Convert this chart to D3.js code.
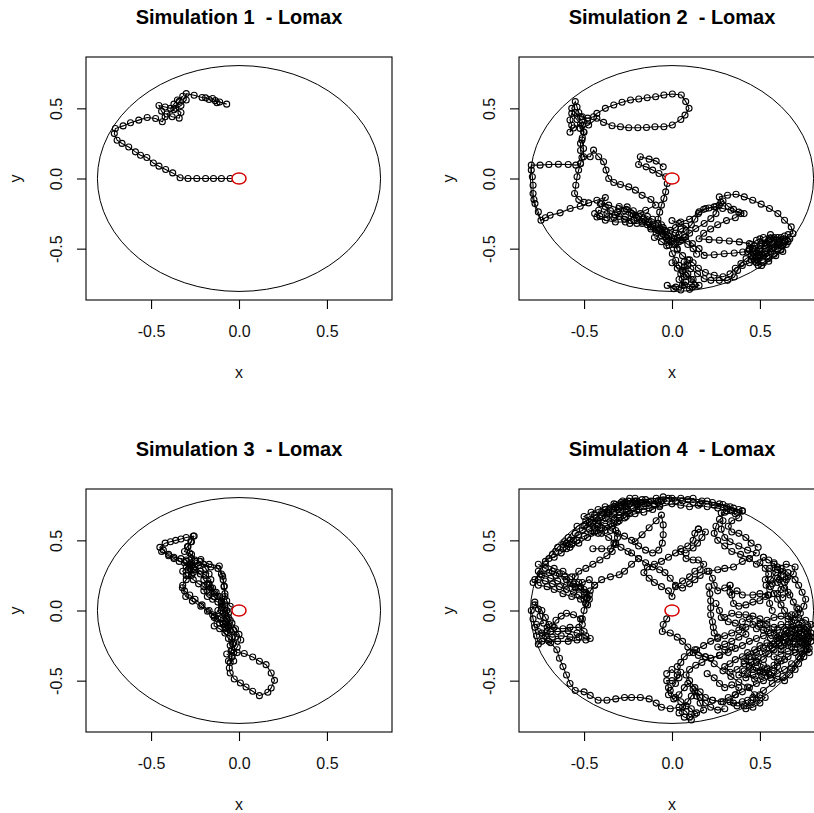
<!DOCTYPE html>
<html><head><meta charset="utf-8">
<script src="https://cdn.jsdelivr.net/npm/d3@7"></script>
<style>body{margin:0;background:#fff;overflow:hidden}svg{display:block}text{white-space:pre}</style>
</head><body>
<script>
// ---------- DATA ----------
const titles = ["Simulation 1  - Lomax","Simulation 2  - Lomax","Simulation 3  - Lomax","Simulation 4  - Lomax"];
const xTicks = [-0.5, 0, 0.5];
const yTicks = [-0.5, 0, 0.5];
const boundaryRadius = 0.805;
const originRadius = 0.04;

const sim1 = [[
 [0,0],[-0.05,0],[-0.1,0],[-0.145,0],[-0.19,0],[-0.24,0],[-0.29,0],[-0.335,0.005],[-0.377,0.04],[-0.417,0.064],
 [-0.455,0.088],[-0.487,0.11],[-0.524,0.15],[-0.56,0.166],[-0.589,0.19],[-0.627,0.225],[-0.665,0.25],[-0.693,0.273],
 [-0.709,0.32],[-0.703,0.356],[-0.659,0.375],[-0.617,0.397],[-0.57,0.416],[-0.522,0.435],[-0.474,0.428],[-0.436,0.404],
 [-0.42,0.44],[-0.44,0.48],[-0.455,0.52],[-0.42,0.51],[-0.39,0.5],[-0.37,0.53],[-0.35,0.56],[-0.32,0.586],[-0.34,0.55],
 [-0.37,0.49],[-0.41,0.46],[-0.38,0.44],[-0.34,0.43],[-0.33,0.47],[-0.36,0.5],[-0.33,0.52],[-0.3,0.56],[-0.3,0.605],
 [-0.255,0.593],[-0.21,0.577],[-0.19,0.575],[-0.17,0.563],[-0.15,0.57],[-0.125,0.54],[-0.135,0.555],[-0.11,0.545],[-0.07,0.53]
]];

const sim2 = [
[[-0.05,0.083],[-0.09,0.124],[-0.13,0.138],[-0.18,0.155],[-0.19,0.1],[-0.147,0.083],[-0.11,0.06],[-0.074,0.036],[-0.036,0.012],[0,0],
 [-0.027,-0.036],[-0.036,-0.095],[-0.046,-0.143],[-0.06,-0.19],[-0.07,-0.24],[-0.08,-0.29],[-0.06,-0.33],[-0.04,-0.37],[-0.036,-0.417],
 [-0.017,-0.476],[0.002,-0.536],[0.021,-0.583],[0.04,-0.619],[0.059,-0.655],[0.069,-0.702],[0.059,-0.762],[0.021,-0.774],[-0.027,-0.762],
 [0.01,-0.785],[0.05,-0.795],[0.078,-0.738],[0.116,-0.774],[0.154,-0.762],[0.12,-0.72],[0.09,-0.68],[0.069,-0.63],[0.069,-0.595],
 [0.107,-0.643],[0.145,-0.679],[0.183,-0.714],[0.221,-0.726],[0.269,-0.726],[0.316,-0.726],[0.354,-0.702],[0.373,-0.655],[0.392,-0.607],
 [0.421,-0.571],[0.45,-0.55],[0.48,-0.53],[0.5,-0.5],[0.53,-0.48],[0.55,-0.45],[0.58,-0.44],[0.6,-0.47],[0.57,-0.5],[0.54,-0.53],
 [0.5,-0.56],[0.47,-0.59],[0.49,-0.62],[0.52,-0.6],[0.55,-0.57],[0.58,-0.54],[0.62,-0.51],[0.65,-0.47],[0.67,-0.43],[0.64,-0.41],
 [0.6,-0.42],[0.56,-0.4],[0.52,-0.42],[0.48,-0.44],[0.45,-0.47],[0.44,-0.51],[0.47,-0.54],[0.5,-0.52],[0.53,-0.5],[0.57,-0.47],
 [0.61,-0.45],[0.64,-0.44],[0.66,-0.4],[0.688,-0.393],[0.678,-0.345],[0.64,-0.298],[0.602,-0.25],[0.554,-0.214],[0.507,-0.183],
 [0.459,-0.155],[0.411,-0.131],[0.364,-0.112],[0.316,-0.119],[0.269,-0.131],[0.278,-0.17],[0.269,-0.19],[0.25,-0.25],[0.221,-0.286],
 [0.183,-0.321],[0.135,-0.357],[0.1,-0.39],[0.07,-0.42],[0.04,-0.45],[0.01,-0.43],[-0.02,-0.41],[-0.06,-0.38],[-0.074,-0.369],
 [-0.122,-0.345],[-0.17,-0.321],[-0.217,-0.298],[-0.265,-0.274],[-0.322,-0.262],[-0.37,-0.25],[-0.417,-0.226],[-0.427,-0.274],
 [-0.379,-0.298],[-0.322,-0.31],[-0.265,-0.31],[-0.208,-0.262],[-0.15,-0.226],[-0.093,-0.19],[-0.12,-0.15],[-0.17,-0.12],
 [-0.208,-0.083],[-0.246,-0.06],[-0.293,-0.043],[-0.331,-0.029],[-0.36,0.0],[-0.375,0.06],[-0.389,0.119],[-0.417,0.155],
 [-0.446,0.202],[-0.465,0.155],[-0.503,0.155],[-0.503,0.214],[-0.512,0.274],[-0.503,0.333],[-0.522,0.357],[-0.474,0.381],
 [-0.427,0.429],[-0.389,0.4],[-0.341,0.376],[-0.293,0.369],[-0.246,0.362],[-0.194,0.362],[-0.145,0.364],[-0.097,0.369],
 [-0.046,0.369],[0.002,0.381],[0.05,0.421],[0.074,0.452],[0.097,0.5],[0.078,0.548],[0.053,0.595],[0.002,0.602],[-0.046,0.595],
 [-0.093,0.583],[-0.141,0.576],[-0.189,0.567],[-0.236,0.56],[-0.284,0.543],[-0.331,0.524],[-0.379,0.5],[-0.427,0.464],
 [-0.446,0.44],[-0.48,0.43],[-0.52,0.44],[-0.55,0.47],[-0.57,0.5],[-0.55,0.548],[-0.54,0.51],[-0.53,0.47],[-0.51,0.44],
 [-0.48,0.41],[-0.52,0.39],[-0.56,0.36],[-0.58,0.33],[-0.57,0.38],[-0.58,0.417],[-0.57,0.464],[-0.54,0.42],[-0.51,0.38],
 [-0.5,0.33],[-0.51,0.29],[-0.52,0.25],[-0.52,0.2],[-0.512,0.15],[-0.52,0.107],[-0.547,0.095],[-0.59,0.1],[-0.646,0.102],
 [-0.7,0.1],[-0.75,0.095],[-0.8,0.095],[-0.8,0.06],[-0.794,0.012],[-0.79,-0.048],[-0.79,-0.107],[-0.785,-0.15],[-0.779,-0.179],
 [-0.76,-0.238],[-0.745,-0.298],[-0.72,-0.28],[-0.693,-0.262],[-0.636,-0.245],[-0.579,-0.214],[-0.522,-0.198],[-0.474,-0.174],
 [-0.427,-0.155],[-0.379,-0.136],[-0.4,-0.18],[-0.36,-0.19],[-0.303,-0.214],[-0.255,-0.202],[-0.22,-0.23],[-0.19,-0.27],
 [-0.15,-0.3],[-0.11,-0.33],[-0.07,-0.36],[-0.03,-0.38],[0.02,-0.35],[0.05,-0.31],[0.1,-0.29],[0.154,-0.238],[0.192,-0.214],
 [0.24,-0.202],[0.288,-0.214],[0.335,-0.226],[0.392,-0.25],[0.36,-0.28],[0.31,-0.3],[0.26,-0.33],[0.22,-0.36],[0.18,-0.39],
 [0.154,-0.429],[0.211,-0.436],[0.269,-0.44],[0.326,-0.445],[0.383,-0.452],[0.44,-0.464],[0.46,-0.5],[0.43,-0.52],[0.402,-0.524],
 [0.354,-0.531],[0.297,-0.536],[0.24,-0.543],[0.183,-0.548],[0.154,-0.5],[0.116,-0.464],[0.078,-0.417],[0.05,-0.44],[0.02,-0.47],
 [0.03,-0.51],[0.06,-0.55],[0.09,-0.58],[0.12,-0.6],[0.15,-0.64],[0.19,-0.67],[0.24,-0.69],[0.29,-0.7],[0.33,-0.68],[0.36,-0.64],
 [0.4,-0.62],[0.44,-0.6],[0.48,-0.58],[0.52,-0.55],[0.56,-0.52],[0.6,-0.5],[0.63,-0.48],[0.6,-0.44],[0.56,-0.43],[0.53,-0.46],
 [0.5,-0.48],[0.47,-0.51],[0.5,-0.54],[0.54,-0.56]],
[[-0.52,0.107],[-0.531,0.06],[-0.54,0.012],[-0.547,-0.048],[-0.554,-0.107],[-0.53,-0.15],[-0.5,-0.17]],
[[-0.408,-0.179],[-0.38,-0.2],[-0.35,-0.23],[-0.31,-0.24],[-0.27,-0.23],[-0.23,-0.25],[-0.2,-0.28],[-0.16,-0.29],[-0.13,-0.31],
 [-0.1,-0.34],[-0.08,-0.37],[-0.05,-0.4],[-0.02,-0.44],[0.01,-0.47],[0.03,-0.5]],
[[-0.44,-0.25],[-0.41,-0.27],[-0.37,-0.28],[-0.33,-0.28],[-0.3,-0.27],[-0.27,-0.29],[-0.24,-0.32],[-0.2,-0.32],[-0.17,-0.31],
 [-0.14,-0.33],[-0.12,-0.36],[-0.09,-0.39],[-0.06,-0.41],[-0.03,-0.43]],
[[0.0,-0.42],[0.04,-0.4],[0.08,-0.37],[0.11,-0.33],[0.13,-0.29],[0.15,-0.25],[0.18,-0.22],[0.21,-0.21],[0.25,-0.2],[0.29,-0.16],
 [0.32,-0.2],[0.35,-0.22],[0.38,-0.24],[0.41,-0.25]],
[[0.45,-0.58],[0.49,-0.57],[0.53,-0.54],[0.57,-0.5],[0.61,-0.47],[0.64,-0.45],[0.62,-0.42],[0.58,-0.42],[0.55,-0.44],[0.51,-0.46],
 [0.47,-0.48],[0.44,-0.5],[0.46,-0.53],[0.5,-0.55]],
[[0.0,-0.6],[0.03,-0.64],[0.05,-0.68],[0.04,-0.72],[0.07,-0.76],[0.1,-0.79],[0.13,-0.76],[0.11,-0.72],[0.08,-0.69],[0.06,-0.66],
 [0.09,-0.62],[0.1,-0.58]],
[[-0.3,-0.2],[-0.26,-0.22],[-0.22,-0.26],[-0.18,-0.25],[-0.14,-0.27],[-0.11,-0.29],[-0.08,-0.32],[-0.05,-0.35],[-0.01,-0.37],
 [0.02,-0.39],[0.05,-0.36],[0.08,-0.34],[0.04,-0.32],[0.0,-0.3]],
[[-0.1,-0.42],[-0.06,-0.45],[-0.03,-0.48],[0.0,-0.45],[0.03,-0.42],[0.06,-0.44],[0.09,-0.47],[0.12,-0.5],[0.14,-0.54]],
[[0.5,-0.43],[0.54,-0.47],[0.58,-0.49],[0.62,-0.48],[0.66,-0.45],[0.63,-0.52],[0.59,-0.55],[0.55,-0.59],[0.51,-0.62],[0.48,-0.6],
 [0.46,-0.56],[0.5,-0.51]]
];

const sim3 = [
[[0,0],[-0.05,0.03],[-0.07,0.07],[-0.08,0.12],[-0.085,0.17],[-0.09,0.22],[-0.1,0.26],[-0.12,0.3],[-0.16,0.31],[-0.2,0.33],
 [-0.23,0.32],[-0.26,0.3],[-0.28,0.33],[-0.3,0.36],[-0.33,0.37],[-0.37,0.38],[-0.4,0.4],[-0.43,0.43],[-0.45,0.45],[-0.42,0.48],
 [-0.39,0.49],[-0.36,0.5],[-0.33,0.51],[-0.3,0.52],[-0.26,0.53],[-0.27,0.49],[-0.29,0.455],[-0.28,0.41],[-0.27,0.37],[-0.28,0.33],
 [-0.29,0.29],[-0.27,0.25],[-0.3,0.22],[-0.32,0.18],[-0.31,0.14],[-0.28,0.11],[-0.25,0.08],[-0.21,0.04],[-0.17,0.0],[-0.14,-0.04],
 [-0.11,-0.09],[-0.08,-0.12],[-0.05,-0.14],[-0.04,-0.19],[-0.035,-0.24],[-0.045,-0.29],[-0.04,-0.33],[-0.05,-0.37],[-0.055,-0.41],
 [-0.05,-0.445],[-0.027,-0.488],[0.008,-0.517],[0.04,-0.545],[0.078,-0.576],[0.116,-0.607],[0.164,-0.583],[0.183,-0.552],
 [0.202,-0.498],[0.183,-0.445],[0.154,-0.386],[0.116,-0.362],[0.078,-0.331],[0.03,-0.307],[-0.01,-0.3],[-0.04,-0.28],[-0.03,-0.23],
 [-0.02,-0.19],[-0.03,-0.14],[-0.06,-0.11],[-0.07,-0.06],[-0.09,-0.02],[-0.1,0.02],[-0.12,0.06],[-0.15,0.08],[-0.18,0.1],
 [-0.2,0.14],[-0.17,0.18],[-0.16,0.22],[-0.19,0.25],[-0.22,0.28],[-0.25,0.31],[-0.27,0.34],[-0.3,0.31],[-0.32,0.28],[-0.3,0.25],
 [-0.26,0.22],[-0.23,0.19],[-0.2,0.17],[-0.17,0.15],[-0.14,0.13],[-0.12,0.1],[-0.1,0.07],[-0.08,0.04],[-0.07,0.0],[-0.06,-0.05],
 [-0.04,-0.09],[-0.02,-0.13],[0.0,-0.17],[0.01,-0.21],[-0.01,-0.26],[-0.03,-0.3]],
[[-0.217,0.364],[-0.17,0.329],[-0.112,0.317],[-0.093,0.245],[-0.084,0.174],[-0.08,0.1],[-0.1,0.05],[-0.12,0.0],[-0.141,-0.05],
 [-0.141,-0.11],[-0.11,-0.13],[-0.08,-0.16],[-0.06,-0.2],[-0.05,-0.25]],
[[-0.322,0.162],[-0.303,0.1],[-0.265,0.067],[-0.217,0.031],[-0.179,-0.005],[-0.15,-0.03],[-0.12,-0.06],[-0.09,-0.09],[-0.07,-0.13]],
[[-0.44,0.42],[-0.4,0.39],[-0.37,0.37],[-0.34,0.35],[-0.31,0.34],[-0.28,0.31],[-0.25,0.29],[-0.22,0.26],[-0.2,0.22],[-0.18,0.19],
 [-0.16,0.16],[-0.13,0.13],[-0.11,0.1],[-0.1,0.06],[-0.08,0.02],[-0.06,-0.02],[-0.05,-0.07],[-0.06,-0.11],[-0.07,-0.15]],
[[-0.255,0.531],[-0.274,0.49],[-0.293,0.455],[-0.31,0.42],[-0.27,0.4],[-0.25,0.36],[-0.22,0.35],[-0.19,0.3],[-0.17,0.26]],
[[-0.3,0.35],[-0.27,0.32],[-0.25,0.35],[-0.28,0.3],[-0.26,0.27],[-0.29,0.25]],
[[-0.1,0.0],[-0.08,-0.03],[-0.1,-0.05],[-0.07,-0.08],[-0.09,-0.1],[-0.06,-0.12]],
[[-0.17,0.19],[-0.15,0.16],[-0.17,0.13],[-0.14,0.1]],
[[-0.07,-0.31],[-0.04,-0.33],[-0.06,-0.36],[-0.03,-0.36]]
];

const sim4 = [
[[0,0],[-0.03,-0.06],[-0.05,-0.1],[-0.055,-0.15],[-0.01,-0.16],[0.03,-0.19],[0.06,-0.22],[0.09,-0.26],[0.12,-0.3],[0.15,-0.32],
 [0.19,-0.33],[0.22,-0.34],[0.27,-0.32],[0.32,-0.3],[0.36,-0.27],[0.4,-0.25],[0.44,-0.22],[0.48,-0.2],[0.52,-0.18],[0.56,-0.16],
 [0.6,-0.14],[0.64,-0.13],[0.68,-0.12],[0.72,-0.1],[0.75,-0.13],[0.73,-0.17],[0.7,-0.2],[0.66,-0.22],[0.62,-0.25],[0.58,-0.28],
 [0.55,-0.31],[0.52,-0.35],[0.48,-0.37],[0.44,-0.4],[0.41,-0.43],[0.38,-0.46],[0.42,-0.48],[0.46,-0.46],[0.5,-0.44],[0.54,-0.42],
 [0.58,-0.39],[0.62,-0.36],[0.66,-0.33],[0.7,-0.3],[0.73,-0.27],[0.76,-0.24],[0.78,-0.2],[0.79,-0.16],[0.77,-0.12],[0.74,-0.09],
 [0.7,-0.07],[0.66,-0.06],[0.62,-0.04],[0.58,-0.05],[0.54,-0.07],[0.5,-0.09],[0.46,-0.1],[0.42,-0.12],[0.38,-0.14],[0.34,-0.16],
 [0.3,-0.18],[0.26,-0.2],[0.22,-0.22],[0.18,-0.25],[0.14,-0.28],[0.1,-0.3],[0.07,-0.33],[0.05,-0.37],[0.03,-0.4],[0.05,-0.44],
 [0.04,-0.48],[0.0,-0.5],[-0.03,-0.5],[-0.02,-0.55],[-0.02,-0.6],[0.01,-0.63],[0.04,-0.6],[0.07,-0.55],[0.09,-0.52],[0.12,-0.56],
 [0.14,-0.61],[0.16,-0.66],[0.18,-0.71],[0.14,-0.73],[0.1,-0.76],[0.08,-0.72],[0.04,-0.69],[-0.01,-0.7],[-0.06,-0.69],[-0.09,-0.66],
 [-0.13,-0.63],[-0.18,-0.62],[-0.23,-0.62],[-0.27,-0.62],[-0.32,-0.63],[-0.37,-0.64],[-0.42,-0.64],[-0.465,-0.605],[-0.5,-0.58],
 [-0.55,-0.57],[-0.58,-0.52],[-0.6,-0.46],[-0.62,-0.4],[-0.64,-0.34],[-0.655,-0.28],[-0.69,-0.23],[-0.74,-0.22],[-0.76,-0.24],
 [-0.77,-0.18],[-0.78,-0.12],[-0.79,-0.06],[-0.8,0.0],[-0.78,0.04],[-0.74,0.0],[-0.72,-0.05],[-0.7,-0.1],[-0.74,-0.16],[-0.69,-0.15],
 [-0.65,-0.15],[-0.59,-0.145],[-0.54,-0.16],[-0.49,-0.18],[-0.465,-0.2],[-0.49,-0.21],[-0.54,-0.21],[-0.59,-0.22],[-0.65,-0.22],
 [-0.7,-0.22],[-0.73,-0.2],[-0.71,-0.15],[-0.68,-0.11],[-0.66,-0.07],[-0.63,-0.04],[-0.6,-0.02],[-0.56,-0.03],[-0.52,-0.06],
 [-0.51,-0.1],[-0.51,-0.06],[-0.5,0.0],[-0.49,0.05],[-0.48,0.09],[-0.5,0.13],[-0.53,0.16],[-0.55,0.16],[-0.6,0.18],[-0.65,0.21],
 [-0.69,0.23],[-0.74,0.255],[-0.76,0.28],[-0.72,0.33],[-0.67,0.3],[-0.62,0.28],[-0.57,0.24],[-0.53,0.2],[-0.5,0.15],[-0.47,0.11],
 [-0.52,0.08],[-0.57,0.1],[-0.62,0.12],[-0.67,0.15],[-0.71,0.17],[-0.76,0.18],[-0.78,0.22],[-0.75,0.26],[-0.7,0.27],[-0.66,0.25],
 [-0.61,0.24],[-0.58,0.2],[-0.55,0.17],[-0.51,0.2],[-0.47,0.22],[-0.44,0.18],[-0.465,0.14],[-0.484,0.09],[-0.49,0.05]],
[[-0.72,0.35],[-0.68,0.4],[-0.65,0.45],[-0.61,0.49],[-0.59,0.52],[-0.54,0.6],[-0.49,0.64],[-0.44,0.68],[-0.38,0.72],[-0.32,0.755],
 [-0.27,0.77],[-0.21,0.78],[-0.15,0.79],[-0.09,0.8],[-0.05,0.81],[0.0,0.8],[0.06,0.78],[0.12,0.77],[0.17,0.78],[0.23,0.77],
 [0.29,0.755],[0.35,0.73],[0.4,0.71],[0.36,0.69],[0.31,0.71],[0.26,0.73],[0.2,0.74],[0.15,0.75],[0.1,0.74],[0.05,0.75],[0.0,0.76],
 [-0.07,0.74],[-0.13,0.73],[-0.19,0.72],[-0.25,0.71],[-0.3,0.68],[-0.36,0.65],[-0.42,0.61],[-0.47,0.58],[-0.53,0.54],[-0.58,0.5],
 [-0.62,0.47],[-0.58,0.45],[-0.53,0.48],[-0.48,0.52],[-0.44,0.56],[-0.4,0.59],[-0.35,0.62],[-0.3,0.64],[-0.26,0.67],[-0.21,0.69],
 [-0.16,0.7],[-0.11,0.72],[-0.07,0.75],[-0.03,0.78],[-0.08,0.77],[-0.14,0.76],[-0.2,0.75],[-0.26,0.74],[-0.31,0.72],[-0.36,0.69],
 [-0.41,0.66],[-0.45,0.63],[-0.44,0.59],[-0.4,0.55],[-0.36,0.52],[-0.32,0.48],[-0.29,0.45],[-0.25,0.42],[-0.23,0.41],[-0.19,0.37],
 [-0.15,0.34],[-0.11,0.31],[-0.07,0.29],[-0.04,0.27],[-0.01,0.23],[0.02,0.18],[0.06,0.16],[0.1,0.19],[0.13,0.22],[0.16,0.25],
 [0.2,0.28],[0.26,0.29],[0.3,0.3],[0.35,0.31],[0.4,0.35],[0.44,0.37],[0.48,0.33]],
[[-0.19,0.37],[-0.23,0.33],[-0.27,0.28],[-0.3,0.255],[-0.35,0.24],[-0.4,0.22],[-0.44,0.18]],
[[-0.21,0.49],[-0.17,0.54],[-0.13,0.59],[-0.09,0.64],[-0.06,0.68],[-0.05,0.61],[-0.05,0.54],[-0.055,0.48],[-0.075,0.43],[-0.11,0.41],
 [-0.15,0.43],[-0.19,0.46],[-0.23,0.5],[-0.27,0.53],[-0.31,0.55],[-0.35,0.57],[-0.38,0.6],[-0.42,0.62],[-0.46,0.65],[-0.5,0.67],
 [-0.46,0.7],[-0.42,0.72],[-0.38,0.74],[-0.33,0.76],[-0.28,0.78],[-0.24,0.8],[-0.2,0.78],[-0.16,0.76],[-0.12,0.78],[-0.08,0.78]],
[[-0.4,0.67],[-0.36,0.7],[-0.32,0.73],[-0.28,0.74],[-0.3,0.7],[-0.34,0.67],[-0.3,0.66],[-0.26,0.7],[-0.22,0.73],[-0.18,0.74],
 [-0.22,0.77],[-0.27,0.76]],
[[-0.45,0.44],[-0.4,0.44],[-0.35,0.44],[-0.33,0.48]],
[[0.37,0.7],[0.33,0.74],[0.3,0.7],[0.28,0.695],[0.29,0.64],[0.28,0.58],[0.3,0.52],[0.33,0.49],[0.38,0.46],[0.43,0.43],[0.48,0.41],
 [0.44,0.37],[0.39,0.4],[0.34,0.42],[0.3,0.46],[0.26,0.5],[0.24,0.55],[0.25,0.6],[0.27,0.65]],
[[0.15,0.58],[0.19,0.56],[0.17,0.52],[0.145,0.48],[0.12,0.445],[0.08,0.41],[0.05,0.42],[0.08,0.37],[0.12,0.36],[0.15,0.36],
 [0.18,0.33],[0.16,0.29],[0.13,0.28],[0.1,0.24],[0.06,0.21],[0.02,0.17],[0.0,0.1],[-0.02,0.14],[-0.06,0.17],[-0.1,0.2],[-0.13,0.23],
 [-0.16,0.27],[-0.14,0.31],[-0.1,0.33],[-0.06,0.35],[-0.02,0.38],[0.02,0.41],[0.05,0.44],[0.09,0.46],[0.12,0.5],[0.13,0.55],[0.15,0.58]],
[[0.21,0.28],[0.23,0.23],[0.24,0.18],[0.26,0.14],[0.3,0.16],[0.33,0.18],[0.34,0.11],[0.35,0.05],[0.38,0.03],[0.42,0.04],[0.46,0.06],
 [0.5,0.07],[0.53,0.1],[0.545,0.11],[0.535,0.18],[0.56,0.22],[0.59,0.27],[0.555,0.3],[0.6,0.31],[0.65,0.33],[0.7,0.31],[0.69,0.26],
 [0.65,0.22],[0.61,0.22],[0.64,0.16],[0.67,0.11],[0.69,0.06],[0.71,0.02],[0.73,-0.02],[0.75,0.03],[0.76,0.08],[0.74,0.13],
 [0.72,0.18],[0.7,0.22],[0.66,0.27],[0.62,0.3],[0.58,0.33],[0.55,0.36],[0.52,0.38]],
[[0.57,0.0],[0.555,0.05],[0.55,0.11],[0.5,0.12],[0.46,0.11],[0.4,0.11],[0.37,0.14],[0.33,0.13],[0.33,0.18]],
[[0.58,0.34],[0.6,0.29],[0.62,0.25],[0.6,0.2],[0.62,0.15],[0.6,0.12],[0.63,0.09],[0.66,0.13],[0.64,0.2],[0.66,0.24],[0.63,0.28],
 [0.6,0.23],[0.57,0.19]],
[[0.21,0.17],[0.215,0.12],[0.22,0.07],[0.22,0.02],[0.22,-0.03],[0.23,-0.08],[0.235,-0.12],[0.24,-0.16],[0.26,-0.19]],
[[0.3,-0.05],[0.34,-0.02],[0.38,-0.03],[0.42,-0.03],[0.46,-0.04],[0.5,-0.06],[0.54,-0.1],[0.58,-0.12],[0.62,-0.1],[0.66,-0.1],
 [0.7,-0.14],[0.74,-0.18],[0.77,-0.22],[0.75,-0.28],[0.72,-0.33],[0.68,-0.38],[0.64,-0.42],[0.6,-0.45],[0.56,-0.48],[0.52,-0.5],
 [0.48,-0.52],[0.44,-0.55],[0.4,-0.58],[0.36,-0.6],[0.32,-0.62],[0.28,-0.65],[0.23,-0.64],[0.19,-0.62],[0.16,-0.58],[0.13,-0.55],
 [0.1,-0.5],[0.08,-0.46],[0.1,-0.42],[0.135,-0.39],[0.17,-0.37],[0.22,-0.34],[0.27,-0.32]],
[[0.13,-0.28],[0.19,-0.33],[0.24,-0.38],[0.29,-0.43],[0.335,-0.47],[0.38,-0.51],[0.43,-0.545],[0.47,-0.6],[0.43,-0.64],[0.4,-0.65],
 [0.35,-0.66],[0.29,-0.65],[0.23,-0.64]],
[[0.46,-0.62],[0.52,-0.57],[0.57,-0.52],[0.63,-0.47],[0.68,-0.41],[0.73,-0.34],[0.77,-0.28],[0.79,-0.22]],
[[0.62,-0.18],[0.66,-0.16],[0.7,-0.18],[0.74,-0.2],[0.78,-0.18],[0.76,-0.14],[0.72,-0.13],[0.68,-0.2],[0.64,-0.23],[0.68,-0.26],
 [0.72,-0.24],[0.76,-0.26],[0.78,-0.3],[0.74,-0.31],[0.7,-0.28],[0.66,-0.29],[0.62,-0.31],[0.58,-0.33],[0.6,-0.37],[0.64,-0.35]],
[[0.45,-0.33],[0.48,-0.36],[0.52,-0.39],[0.5,-0.43],[0.46,-0.42],[0.43,-0.45],[0.47,-0.49],[0.51,-0.47],[0.55,-0.45],[0.54,-0.41],
 [0.58,-0.43],[0.6,-0.4]],
[[-0.66,0.42],[-0.62,0.44],[-0.6,0.48],[-0.56,0.5],[-0.55,0.55],[-0.51,0.57],[-0.49,0.61],[-0.45,0.6],[-0.42,0.64],[-0.38,0.66],
 [-0.37,0.7],[-0.33,0.7],[-0.3,0.73],[-0.26,0.72],[-0.24,0.76],[-0.2,0.76],[-0.17,0.79],[-0.13,0.77],[-0.1,0.76],[-0.06,0.78],
 [-0.02,0.8],[0.02,0.78],[0.05,0.8],[0.09,0.79],[0.12,0.8],[0.16,0.76],[0.2,0.78],[0.24,0.75],[0.27,0.76],[0.31,0.74],[0.34,0.71],[0.38,0.72]],
[[-0.5,0.6],[-0.47,0.63],[-0.43,0.66],[-0.4,0.7],[-0.36,0.72],[-0.33,0.74],[-0.29,0.77],[-0.25,0.78],[-0.21,0.8],[-0.18,0.77],
 [-0.2,0.72],[-0.24,0.69],[-0.27,0.66],[-0.31,0.63],[-0.34,0.6],[-0.38,0.57],[-0.42,0.55],[-0.46,0.55],[-0.5,0.53],[-0.54,0.5],
 [-0.57,0.47],[-0.6,0.44],[-0.63,0.41],[-0.67,0.38],[-0.7,0.37]],
[[-0.33,0.62],[-0.32,0.57],[-0.31,0.52],[-0.32,0.47],[-0.34,0.42],[-0.37,0.39],[-0.41,0.36],[-0.45,0.33],[-0.49,0.3],[-0.53,0.28],[-0.55,0.24]],
[[-0.76,0.33],[-0.72,0.3],[-0.68,0.28],[-0.64,0.26],[-0.6,0.22],[-0.56,0.19],[-0.52,0.17],[-0.49,0.13],[-0.47,0.08]],
[[-0.79,0.2],[-0.76,0.22],[-0.72,0.21],[-0.68,0.19],[-0.64,0.17],[-0.6,0.15],[-0.56,0.13],[-0.53,0.11],[-0.5,0.08],[-0.48,0.04]],
[[-0.78,0.06],[-0.76,0.01],[-0.75,-0.04],[-0.73,-0.09],[-0.77,-0.1],[-0.76,-0.15],[-0.72,-0.18],[-0.68,-0.19],[-0.63,-0.18],
 [-0.58,-0.19],[-0.53,-0.19],[-0.5,-0.15],[-0.53,-0.12],[-0.58,-0.12],[-0.62,-0.13],[-0.67,-0.12],[-0.71,-0.12]],
[[0.52,0.38],[0.5,0.34],[0.53,0.3],[0.55,0.26],[0.53,0.22],[0.56,0.17],[0.58,0.12],[0.6,0.08],[0.62,0.04],[0.64,0.0],[0.66,-0.04],
 [0.68,-0.08],[0.7,-0.03],[0.72,0.01]],
[[0.4,-0.08],[0.44,-0.06],[0.48,-0.13],[0.52,-0.14],[0.56,-0.2],[0.6,-0.19],[0.64,-0.17],[0.68,-0.15],[0.72,-0.16],[0.75,-0.2],
 [0.77,-0.25],[0.74,-0.23],[0.7,-0.24],[0.66,-0.25],[0.62,-0.28],[0.58,-0.24],[0.54,-0.23],[0.5,-0.25],[0.47,-0.28],[0.43,-0.3],
 [0.4,-0.33],[0.36,-0.35],[0.33,-0.38],[0.3,-0.4],[0.33,-0.44],[0.37,-0.42],[0.41,-0.38],[0.45,-0.37],[0.49,-0.33],[0.53,-0.3],
 [0.57,-0.27],[0.61,-0.23],[0.65,-0.2],[0.69,-0.22],[0.73,-0.22],[0.77,-0.16],[0.79,-0.1],[0.76,-0.07],[0.72,-0.05],[0.68,-0.03]],
[[0.5,-0.1],[0.54,-0.13],[0.58,-0.16],[0.61,-0.2],[0.65,-0.14],[0.69,-0.11],[0.73,-0.12],[0.77,-0.15],[0.79,-0.19],[0.76,-0.21],
 [0.72,-0.19],[0.68,-0.17],[0.64,-0.19],[0.6,-0.22],[0.56,-0.25],[0.52,-0.27],[0.48,-0.3],[0.44,-0.33],[0.41,-0.36],[0.44,-0.39],
 [0.48,-0.41],[0.52,-0.44],[0.56,-0.46],[0.6,-0.49],[0.64,-0.5],[0.67,-0.46],[0.7,-0.42],[0.72,-0.38],[0.75,-0.33],[0.78,-0.27]],
[[0.2,-0.45],[0.24,-0.48],[0.27,-0.52],[0.3,-0.55],[0.34,-0.53],[0.38,-0.55],[0.36,-0.6],[0.33,-0.65],[0.37,-0.68],[0.41,-0.68],
 [0.45,-0.66],[0.48,-0.64],[0.5,-0.6],[0.53,-0.62],[0.5,-0.66],[0.46,-0.69],[0.42,-0.7]],
[[-0.03,-0.45],[0.0,-0.42],[0.03,-0.46],[0.02,-0.52],[-0.01,-0.57],[0.02,-0.62],[0.05,-0.65],[0.08,-0.68],[0.11,-0.7],[0.13,-0.74],
 [0.11,-0.78],[0.07,-0.76],[0.04,-0.73],[0.06,-0.69],[0.09,-0.65],[0.11,-0.61],[0.13,-0.58],[0.16,-0.62],[0.19,-0.66],[0.22,-0.69],
 [0.26,-0.71],[0.3,-0.7]],
[[0.25,0.05],[0.27,0.0],[0.28,-0.05],[0.32,-0.08],[0.36,-0.09],[0.4,-0.12],[0.42,-0.17],[0.38,-0.19],[0.34,-0.22],[0.3,-0.24],
 [0.26,-0.26],[0.3,-0.28],[0.34,-0.26]],
[[0.4,0.71],[0.38,0.66],[0.34,0.64],[0.32,0.6],[0.34,0.56],[0.38,0.55],[0.42,0.52],[0.45,0.48],[0.49,0.45]]
];

const sims = [sim1, sim2, sim3, sim4];

// ---------- DRAW ----------
const W = 814, H = 813;
const PW = 433, PH = 432;
const box = {l: 86, r: 392, t: 57, b: 300};
const font = "'Liberation Sans', Arial, sans-serif";

const svg = d3.select("body").append("svg").attr("width", W).attr("height", H)
  .style("font-family", font);

sims.forEach((walk, i) => {
  const ox = (i % 2) * PW, oy = Math.floor(i / 2) * PH;
  const g = svg.append("g");
  const x = d3.scaleLinear().domain([-0.87, 0.87]).range([ox + box.l, ox + box.r]);
  const y = d3.scaleLinear().domain([-0.866, 0.866]).range([oy + box.b, oy + box.t]);
  const cx = (box.l + box.r) / 2 + ox, cy = (box.t + box.b) / 2 + oy;

  // title
  g.append("text").attr("x", cx).attr("y", oy + 24).attr("text-anchor", "middle")
    .attr("font-weight", "bold").attr("font-size", 20).attr("fill", "#000")
    .attr("xml:space", "preserve").text(titles[i]);

  // box
  g.append("rect").attr("x", x(-0.87)).attr("y", y(0.866))
    .attr("width", x(0.87) - x(-0.87)).attr("height", y(-0.866) - y(0.866))
    .attr("fill", "none").attr("stroke", "#000").attr("stroke-width", 1.1);

  // x axis
  const xa = g.append("g").attr("transform", `translate(0,${oy + box.b})`)
    .call(d3.axisBottom(x).tickValues(xTicks).tickSize(9).tickPadding(8).tickFormat(d => d.toFixed(1)));
  xa.select(".domain").remove();
  xa.selectAll("text").attr("font-size", 16).attr("fill", "#111").attr("font-family", font).attr("dy", "1.28em");
  xa.selectAll("line").attr("stroke", "#000").attr("stroke-width", 1.1);

  // y axis
  const ya = g.append("g").attr("transform", `translate(${ox + box.l},0)`)
    .call(d3.axisLeft(y).tickValues(yTicks).tickSize(9).tickFormat(d => d.toFixed(1)));
  ya.select(".domain").remove();
  ya.selectAll("line").attr("stroke", "#000").attr("stroke-width", 1.1);
  ya.selectAll("text").remove();
  ya.selectAll(".tick").append("text")
    .attr("transform", "translate(-24,0) rotate(-90)")
    .attr("text-anchor", "middle").attr("font-size", 16).attr("fill", "#111")
    .attr("font-family", font).text(d => d.toFixed(1));

  // axis titles
  g.append("text").attr("x", cx).attr("y", oy + 378).attr("text-anchor", "middle")
    .attr("font-size", 16).attr("fill", "#111").text("x");
  g.append("text").attr("transform", `translate(${ox + 21},${cy}) rotate(-90)`)
    .attr("text-anchor", "middle").attr("font-size", 16).attr("fill", "#111").text("y");

  // boundary circle
  g.append("ellipse").attr("cx", x(0)).attr("cy", y(0))
    .attr("rx", x(boundaryRadius) - x(0)).attr("ry", y(0) - y(boundaryRadius))
    .attr("fill", "none").attr("stroke", "#000").attr("stroke-width", 1);

  // walk
  const line = d3.line().x(d => x(d[0])).y(d => y(d[1]));
  walk.forEach(leg => {
    g.append("path").attr("d", line(leg)).attr("fill", "none").attr("stroke", "#000").attr("stroke-width", 1.1);
    g.selectAll(null).data(leg).enter().append("circle")
      .attr("cx", d => x(d[0])).attr("cy", d => y(d[1])).attr("r", 3)
      .attr("fill", "none").attr("stroke", "#000").attr("stroke-width", 1.1);
  });

  // origin marker
  g.append("ellipse").attr("cx", x(0)).attr("cy", y(0))
    .attr("rx", x(originRadius) - x(0)).attr("ry", y(0) - y(originRadius))
    .attr("fill", "#fff").attr("stroke", "#d40000").attr("stroke-width", 1.5);
});
</script>
</body></html>
